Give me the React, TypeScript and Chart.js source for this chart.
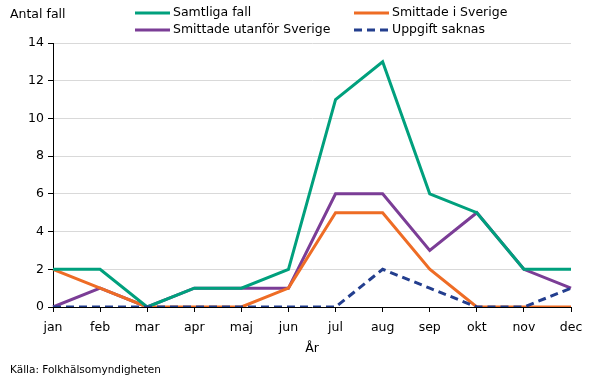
import React, { useEffect, useRef } from "react";
import { Chart, registerables } from "chart.js";

Chart.register(...registerables);

const months = ["jan", "feb", "mar", "apr", "maj", "jun", "jul", "aug", "sep", "okt", "nov", "dec"];
const samtligaFall = [2, 2, 0, 1, 1, 2, 11, 13, 6, 5, 2, 2];
const smittadeISverige = [2, 1, 0, 0, 0, 1, 5, 5, 2, 0, 0, 0];
const smittadeUtanfor = [0, 1, 0, 1, 1, 1, 6, 6, 3, 5, 2, 1];
const uppgiftSaknas = [0, 0, 0, 0, 0, 0, 0, 2, 1, 0, 0, 1];

const FONT = "'DejaVu Sans', Verdana, sans-serif";

const textPlugin = {
  id: "customText",
  afterDraw(chart: any) {
    const ctx = chart.ctx;
    const ds = chart.data.datasets;
    ctx.save();
    ctx.fillStyle = "#000";
    ctx.textBaseline = "middle";
    ctx.textAlign = "left";
    ctx.font = `12.5px ${FONT}`;
    ctx.fillText("Antal fall", 10, 15);
    const cols = [135, 354];
    const rows = [13, 30];
    [0, 1, 2, 3].forEach((i, k) => {
      const d = ds[i];
      const x = cols[k % 2];
      const y = rows[Math.floor(k / 2)];
      ctx.beginPath();
      ctx.strokeStyle = d.borderColor;
      ctx.lineWidth = 3;
      ctx.setLineDash(d.borderDash || []);
      ctx.moveTo(x, y);
      ctx.lineTo(x + 35, y);
      ctx.stroke();
      ctx.setLineDash([]);
      ctx.fillText(d.label, x + 38, y);
    });
    ctx.textAlign = "center";
    ctx.fillText("År", (chart.chartArea.left + chart.chartArea.right) / 2, 349);
    ctx.textAlign = "left";
    ctx.font = `10.5px ${FONT}`;
    ctx.fillText("Källa: Folkhälsomyndigheten", 10, 370);
    ctx.restore();
  },
};

export default function App() {
  const ref = useRef<HTMLCanvasElement>(null);
  useEffect(() => {
    document.body.style.margin = "0";
    const base = [
      { label: "Samtliga fall", data: samtligaFall, borderColor: "#00A07D", order: 1 },
      { label: "Smittade i Sverige", data: smittadeISverige, borderColor: "#EE6C25", order: 2 },
      { label: "Smittade utanför Sverige", data: smittadeUtanfor, borderColor: "#7B3D96", order: 3 },
      { label: "Uppgift saknas", data: uppgiftSaknas, borderColor: "#233E8E", borderDash: [8, 5], order: 0 },
    ];
    const chart = new Chart(ref.current!, {
      type: "line",
      data: {
        labels: months,
        datasets: base.map((d) => ({ ...d, borderWidth: 3, pointRadius: 0, tension: 0, fill: false })),
      },
      options: {
        animation: false,
        responsive: false,
        layout: { padding: { top: 43, right: 34, left: 0, bottom: 0 } },
        plugins: { legend: { display: false }, tooltip: { enabled: false } },
        scales: {
          x: {
            offset: false,
            grid: { drawOnChartArea: false, drawTicks: true, tickLength: 5, tickColor: "#000" },
            border: { display: true, color: "#000", width: 1 },
            ticks: { color: "#000", font: { family: FONT, size: 12.5 }, padding: 8, maxRotation: 0, autoSkip: false },
            afterFit: (s: any) => { s.height = 72; },
          },
          y: {
            min: 0,
            max: 14,
            grid: { color: "#D9D9D9", tickColor: "#000", tickLength: 5, lineWidth: 1 },
            border: { display: true, color: "#000", width: 1 },
            ticks: { stepSize: 2, color: "#000", font: { family: FONT, size: 12.5 }, padding: 4 },
            afterFit: (s: any) => { s.width = 53; },
          },
        },
      },
      plugins: [textPlugin],
    });
    return () => chart.destroy();
  }, []);
  return <canvas ref={ref} width={605} height={379} style={{ display: "block" }} />;
}
